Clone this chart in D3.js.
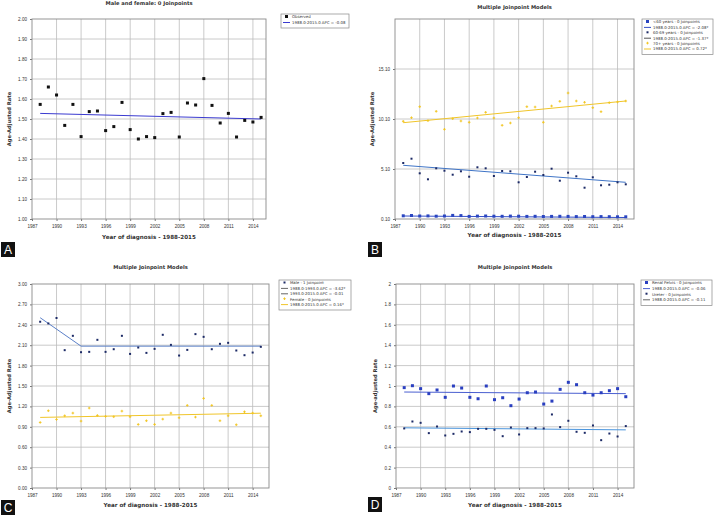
<!DOCTYPE html>
<html><head><meta charset="utf-8">
<script src="https://cdn.jsdelivr.net/npm/d3@7"></script>
<style>
body{margin:0;background:#fff;}
svg{display:block;font-family:"DejaVu Sans",Arial,sans-serif;}
</style></head>
<body><svg id="c" width="714" height="516"></svg>
<script>
const years = [1988,1989,1990,1991,1992,1993,1994,1995,1996,1997,1998,1999,2000,2001,2002,2003,2004,2005,2006,2007,2008,2009,2010,2011,2012,2013,2014,2015];
const xTicks = [1987,1990,1993,1996,1999,2002,2005,2008,2011,2014];

// Panel A
const aTicks = [1.00,1.10,1.20,1.30,1.40,1.50,1.60,1.70,1.80,1.90,2.00];
const aObserved = [1.573,1.66,1.62,1.468,1.573,1.412,1.537,1.54,1.442,1.462,1.583,1.447,1.40,1.412,1.407,1.527,1.533,1.41,1.58,1.57,1.702,1.568,1.48,1.528,1.41,1.493,1.485,1.508];
const aFitYears = [1988,2015];
const aFit = [1.528,1.500];

// Panel B
const bTicks = [0.10,5.10,10.10,15.10];
const bUnder60 = [0.42,0.45,0.40,0.41,0.38,0.40,0.46,0.44,0.36,0.39,0.40,0.38,0.37,0.39,0.38,0.36,0.37,0.35,0.36,0.37,0.36,0.34,0.35,0.33,0.34,0.33,0.32,0.32];
const b60to69 = [5.7,6.13,4.67,4.07,5.17,4.93,4.53,4.87,4.33,5.27,5.17,4.4,4.9,4.87,3.77,4.3,4.83,4.5,5.13,3.93,4.73,4.37,3.23,4.27,3.47,3.53,3.77,3.57];
const b70plus = [9.87,10.23,11.33,9.93,10.87,9.07,10.13,9.9,9.77,10.2,10.77,10.2,9.47,9.7,10.23,11.33,11.3,9.77,11.4,11.87,12.7,11.9,11.77,11.23,10.83,11.73,11.8,11.9];
const bFitYears = [1988,2015];
const bFitUnder60 = [0.40,0.25];
const bFit60to69 = [5.47,3.77];
const bFit70plus = [9.73,11.9];

// Panel C
const cTicks = [0.00,0.30,0.60,0.90,1.20,1.50,1.80,2.10,2.40,2.70,3.00];
const cMale = [2.445,2.42,2.50,2.027,2.238,1.997,2.002,2.179,2.002,2.041,2.238,1.972,2.066,1.987,2.046,2.253,2.105,1.948,2.031,2.263,2.223,2.041,2.12,2.135,2.022,1.953,1.992,2.076];
const cFemale = [0.964,1.136,1.008,1.062,1.102,0.984,1.176,1.067,1.053,1.048,1.131,1.048,0.935,0.989,0.935,1.013,1.102,1.033,1.215,1.043,1.318,1.215,0.989,1.062,0.93,1.121,1.102,1.062];
const cFitMaleYears = [1988,1993,2015];
const cFitMale = [2.504,2.086,2.086];
const cFitFemaleYears = [1988,2015];
const cFitFemale = [1.038,1.10];

// Panel D
const dTicks = [0,0.2,0.4,0.6,0.8,1,1.2,1.4,1.6,1.8,2];
const dRenal = [0.984,1.003,0.974,0.925,0.961,0.889,1.0,0.98,0.889,0.875,1.0,0.866,0.885,0.807,0.872,0.934,0.941,0.823,0.852,0.967,1.036,1.013,0.934,0.911,0.934,0.954,0.974,0.895];
const dUreter = [0.584,0.652,0.639,0.538,0.603,0.515,0.531,0.554,0.548,0.58,0.58,0.57,0.508,0.593,0.525,0.587,0.587,0.584,0.721,0.597,0.659,0.551,0.541,0.613,0.469,0.534,0.505,0.607];
const dFitYears = [1988,2015];
const dFitRenal = [0.941,0.925];
const dFitUreter = [0.59,0.57];

const svg = d3.select("#c");

function marker(g, shape, x, y, color){
  if(shape==="square"){
    g.append("rect").attr("x",x-1.5).attr("y",y-1.5).attr("width",3).attr("height",3).attr("fill",color);
  } else if(shape==="dot"){
    g.append("rect").attr("x",x-1).attr("y",y-1).attr("width",2).attr("height",2).attr("fill",color);
  } else if(shape==="plus"){
    g.append("path").attr("d",`M${x-1.3},${y}h2.6M${x},${y-1.3}v2.6`).attr("stroke",color).attr("stroke-width",0.9);
  }
}

function panel(cfg){
  const g = svg.append("g");
  const x = d3.scaleLinear().domain(cfg.xDomain).range([cfg.x0,cfg.x1]);
  const y = d3.scaleLinear().domain(cfg.yDomain).range([cfg.y1,cfg.y0]);
  // plot background
  g.append("rect").attr("x",cfg.x0).attr("y",cfg.y0).attr("width",cfg.x1-cfg.x0).attr("height",cfg.y1-cfg.y0).attr("fill","#fff");
  // grid
  g.selectAll(null).data(xTicks.slice(1)).enter().append("line")
    .attr("x1",d=>x(d)).attr("x2",d=>x(d)).attr("y1",cfg.y0).attr("y2",cfg.y1)
    .attr("stroke","#bdbdbd").attr("stroke-width",0.8);
  g.selectAll(null).data(cfg.yTicks.filter(t=>t!==cfg.yDomain[0]&&t!==cfg.yDomain[1])).enter().append("line")
    .attr("x1",cfg.x0).attr("x2",cfg.x1).attr("y1",d=>y(d)).attr("y2",d=>y(d))
    .attr("stroke","#bdbdbd").attr("stroke-width",0.8);
  // axes
  const xa = d3.axisBottom(x).tickValues(xTicks).tickSize(2).tickFormat(d3.format("d"));
  const ya = d3.axisLeft(y).tickValues(cfg.yTicks).tickSize(2).tickFormat(cfg.yFormat);
  const gx = g.append("g").attr("transform",`translate(0,${cfg.y1})`).call(xa);
  const gy = g.append("g").attr("transform",`translate(${cfg.x0},0)`).call(ya);
  [gx,gy].forEach(a=>{
    a.select(".domain").remove();
    a.selectAll(".tick line").attr("stroke","#777");
    a.selectAll("text").attr("font-size",4.6).attr("fill","#333");
  });
  gx.selectAll("text").attr("dy","0.9em");
  // border
  g.append("rect").attr("x",cfg.x0).attr("y",cfg.y0).attr("width",cfg.x1-cfg.x0).attr("height",cfg.y1-cfg.y0)
    .attr("fill","none").attr("stroke","#8a8a8a").attr("stroke-width",0.9);
  // fit lines
  const line = d3.line().x(d=>x(d[0])).y(d=>y(d[1]));
  cfg.fits.forEach(f=>{
    g.append("path").datum(f.xs.map((v,i)=>[v,f.ys[i]])).attr("d",line)
      .attr("fill","none").attr("stroke",f.color).attr("stroke-width",1);
  });
  // points
  cfg.series.forEach(s=>{
    s.values.forEach((v,i)=>marker(g,s.shape,x(years[i]),y(v),s.color));
  });
  // title
  g.append("text").attr("x",(cfg.x0+cfg.x1)/2+cfg.titleDx).attr("y",cfg.titleY).attr("text-anchor","middle")
    .attr("font-size",5.2).attr("font-weight","bold").attr("fill","#333").text(cfg.title);
  // x title
  g.append("text").attr("x",(cfg.x0+cfg.x1)/2).attr("y",cfg.xTitleY).attr("text-anchor","middle")
    .attr("font-size",5.6).attr("font-weight","bold").attr("fill","#333").text("Year of diagnosis - 1988-2015");
  // y title
  g.append("text").attr("transform",`translate(${cfg.yTitleX},${(cfg.y0+cfg.y1)/2}) rotate(-90)`).attr("text-anchor","middle")
    .attr("font-size",5.2).attr("font-weight","bold").attr("fill","#333").text(cfg.yTitle);
  // legend
  const L = cfg.legend;
  g.append("rect").attr("x",L.x).attr("y",L.y).attr("width",L.w).attr("height",L.items.length*L.step+3)
    .attr("fill","#fff").attr("stroke","#888").attr("stroke-width",0.7);
  L.items.forEach((it,i)=>{
    const yy = L.y+3+i*L.step;
    if(it.type==="line"){
      g.append("line").attr("x1",L.x+2).attr("x2",L.x+9).attr("y1",yy).attr("y2",yy).attr("stroke",it.color).attr("stroke-width",1);
    } else {
      marker(g,it.shape,L.x+5.5,yy-0.5,it.color);
    }
    g.append("text").attr("x",L.x+11).attr("y",yy+1.4).attr("font-size",3.9).attr("fill","#333").text(it.text);
  });
  // panel letter
  g.append("rect").attr("x",cfg.letter[0]).attr("y",cfg.letter[1]).attr("width",14).attr("height",15).attr("fill","#111");
  g.append("text").attr("x",cfg.letter[0]+7).attr("y",cfg.letter[1]+12).attr("text-anchor","middle")
    .attr("font-size",12).attr("fill","#fff").attr("font-family","Liberation Sans, Arial, sans-serif").text(cfg.letterText);
}

const f2 = d3.format(".2f");

panel({x0:32,x1:266,y0:19,y1:219,xDomain:[1987,2015.6],yDomain:[1,2],yTicks:aTicks,yFormat:f2,
  title:"Male and female: 0 Joinpoints",titleY:5,titleDx:0,xTitleY:239,yTitleX:11,yTitle:"Age-Adjusted Rate",
  series:[{values:aObserved,shape:"square",color:"#111"}],
  fits:[{xs:aFitYears,ys:aFit,color:"#3b3bd0"}],
  legend:{x:281,y:14,w:68,step:5.5,items:[
    {type:"pt",shape:"square",color:"#111",text:"Observed"},
    {type:"line",color:"#3b3bd0",text:"1988.0-2015.0 APC = -0.08"}]},
  letter:[1,242],letterText:"A"});

panel({x0:395,x1:634,y0:19,y1:219,xDomain:[1987,2016],yDomain:[0.1,20.1],yTicks:bTicks,yFormat:f2,
  title:"Multiple Joinpoint Models",titleY:9,titleDx:0,xTitleY:237,yTitleX:374,yTitle:"Age-Adjusted Rate",
  series:[{values:bUnder60,shape:"square",color:"#2a45c0"},{values:b60to69,shape:"dot",color:"#1c2a66"},{values:b70plus,shape:"plus",color:"#f2c41c"}],
  fits:[{xs:bFitYears,ys:bFitUnder60,color:"#3550c8"},{xs:bFitYears,ys:bFit60to69,color:"#3f74c6"},{xs:bFitYears,ys:bFit70plus,color:"#f0c52a"}],
  legend:{x:642,y:19,w:71,step:5.4,items:[
    {type:"pt",shape:"square",color:"#2a45c0",text:"<60 years - 0 Joinpoints"},
    {type:"line",color:"#3550c8",text:"1988.0-2015.0 APC = -2.08*"},
    {type:"pt",shape:"dot",color:"#1c2a66",text:"60-69 years - 0 Joinpoints"},
    {type:"line",color:"#555",text:"1988.0-2015.0 APC = -1.37*"},
    {type:"pt",shape:"plus",color:"#f2c41c",text:"70+ years - 0 Joinpoints"},
    {type:"line",color:"#f0c52a",text:"1988.0-2015.0 APC = 0.72*"}]},
  letter:[368,242],letterText:"B"});

panel({x0:32,x1:269,y0:284,y1:488,xDomain:[1987,2016],yDomain:[0,3],yTicks:cTicks,yFormat:f2,
  title:"Multiple Joinpoint Models",titleY:269,titleDx:0,xTitleY:507,yTitleX:11,yTitle:"Age-Adjusted Rate",
  series:[{values:cMale,shape:"dot",color:"#1c2a66"},{values:cFemale,shape:"plus",color:"#f2c41c"}],
  fits:[{xs:cFitMaleYears,ys:cFitMale,color:"#5b80c8"},{xs:cFitFemaleYears,ys:cFitFemale,color:"#f0c52a"}],
  legend:{x:279,y:280,w:72,step:5.4,items:[
    {type:"pt",shape:"dot",color:"#1c2a66",text:"Male - 1 Joinpoint"},
    {type:"line",color:"#666",text:"1988.0-1993.0 APC = -3.62*"},
    {type:"line",color:"#666",text:"1993.0-2015.0 APC = -0.01"},
    {type:"pt",shape:"plus",color:"#f2c41c",text:"Female - 0 Joinpoints"},
    {type:"line",color:"#f0c52a",text:"1988.0-2015.0 APC = 0.16*"}]},
  letter:[1,500],letterText:"C"});

panel({x0:396,x1:634,y0:284,y1:488,xDomain:[1987,2016],yDomain:[0,2],yTicks:dTicks,yFormat:d3.format("~g"),
  title:"Multiple Joinpoint Models",titleY:269,titleDx:0,xTitleY:507,yTitleX:377,yTitle:"Age-adjusted Rate",
  series:[{values:dRenal,shape:"square",color:"#2a3fc0"},{values:dUreter,shape:"dot",color:"#1c2a66"}],
  fits:[{xs:dFitYears,ys:dFitRenal,color:"#4a5fd0"},{xs:dFitYears,ys:dFitUreter,color:"#4a94dc"}],
  legend:{x:641,y:280,w:71,step:5.6,items:[
    {type:"pt",shape:"square",color:"#2a3fc0",text:"Renal Pelvis - 0 Joinpoints"},
    {type:"line",color:"#4a5fd0",text:"1988.0-2015.0 APC = -0.06"},
    {type:"pt",shape:"dot",color:"#1c2a66",text:"Ureter - 0 Joinpoints"},
    {type:"line",color:"#666",text:"1988.0-2015.0 APC = -0.11"}]},
  letter:[368,497],letterText:"D"});
</script></body></html>
